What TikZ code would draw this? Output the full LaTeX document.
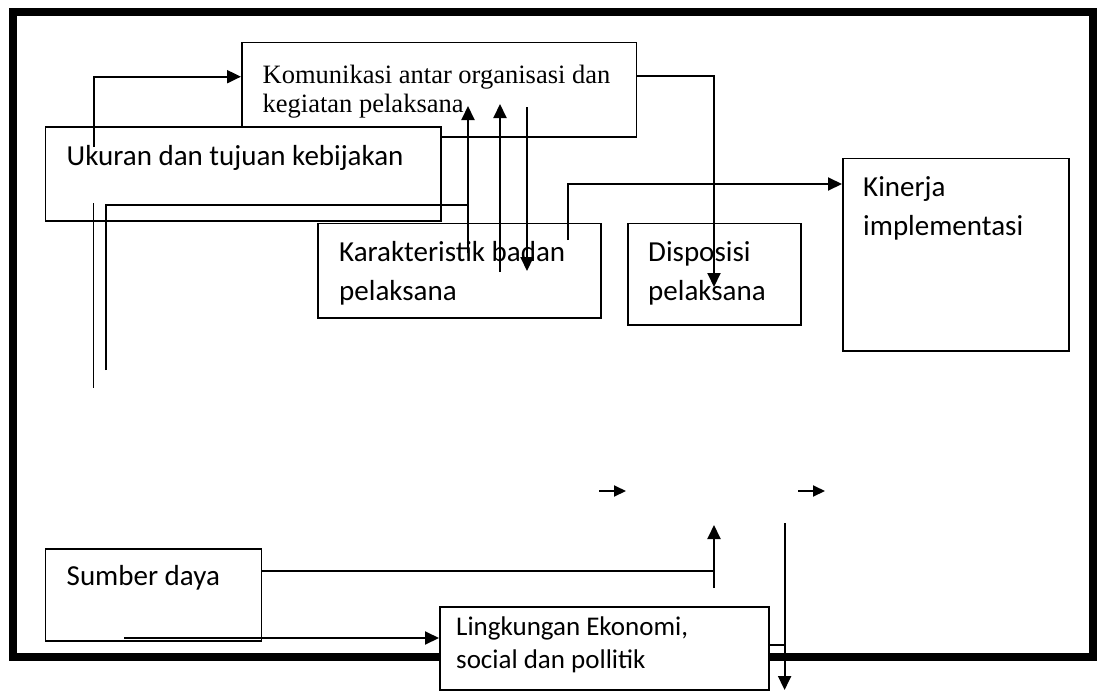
\documentclass[tikz,border=0pt]{standalone}
\usepackage{fontspec}
\setmainfont{Carlito}
\newfontfamily\timesfont{Liberation Serif}
\usetikzlibrary{arrows.meta}
\begin{document}
\begin{tikzpicture}[x=1pt,y=-1pt]
	\tikzstyle{box} = [draw, fill=white, line width=1.6pt, inner sep=0pt, anchor=north west];
	\tikzstyle{txt} = [inner sep=0pt, anchor=base west, align=flush left, text width=370pt, font=\fontsize{29}{39}\selectfont];
	\tikzstyle{ln} = [line width=1.4pt];
	\tikzstyle{arr} = [line width=2pt, -{Triangle[length=14pt,width=13pt]}];
	\useasboundingbox (0,0) rectangle (1101,691);
	\draw[line width=8pt] (13,11.5) rectangle (1092.5,657);
	% boxes
	\node[box, minimum width=394.7pt, minimum height=94.3pt] (kom) at (241,41.7) {};
	\node[txt, font=\timesfont\fontsize{26.5}{29}\selectfont] (komtxt) at (262.5,83) {Komunikasi antar organisasi dan\\kegiatan pelaksana};
	\node[box, minimum width=395.4pt, minimum height=94pt] (uk) at (44.6,126) {};
	\node[txt] (uktxt) at (66.5,165.7) {Ukuran dan tujuan kebijakan};
	\coordinate (p1) at (93.6,147);
	\coordinate (p2) at (93.6,76.7);
	\draw[arr] (p1) -- (p2) -- (kom.west |- p2);
	\node[box, minimum width=283pt, minimum height=94.3pt] (kar) at (317,222.7) {};
	\node[txt] (kartxt) at (339,261) {Karakteristik badan\\pelaksana};
	\node[box, minimum width=173pt, minimum height=101.3pt] (dis) at (627,222.7) {};
	\node[txt] (distxt) at (648,261) {Disposisi\\pelaksana};
	\node[box, minimum width=226pt, minimum height=192.3pt] (kin) at (842,157.7) {};
	\node[txt] (kintxt) at (863,196.7) {Kinerja\\implementasi};
	\node[box, minimum width=216pt, minimum height=92pt] (sum) at (44.6,548) {};
	\node[txt] (sumtxt) at (66.5,585) {Sumber daya};
	\node[box, minimum width=329pt, minimum height=83pt] (lin) at (439,606) {};
	\node[txt, font=\fontsize{27}{33}\selectfont] (lintxt) at (456,635) {Lingkungan Ekonomi,\\social dan pollitik};
	% lines
	\coordinate (q1) at (93.6,203);
	\coordinate (q2) at (93.6,388);
	\draw[ln] (q1) -- (q2);
	\coordinate (r1) at (106,370);
	\coordinate (r2) at (106,205);
	\coordinate (s1) at (468,253);
	\coordinate (s2) at (468,106);
	\draw[ln] (r1) -- (r2) -- (r2 -| s1);
	\draw[arr] (s1) -- (s2);
	\coordinate (t1) at (500,272);
	\coordinate (t2) at (500,104);
	\draw[arr] (t1) -- (t2);
	\coordinate (u1) at (527,107);
	\coordinate (u2) at (527,271);
	\draw[arr] (u1) -- (u2);
	\coordinate (v1) at (568,240);
	\coordinate (v2) at (568,184);
	\draw[arr] (v1) -- (v2) -- (kin.west |- v2);
	\coordinate (w1) at (714,76);
	\coordinate (w2) at (714,287);
	\draw[arr] (kom.east |- w1) -- (w1) -- (w2);
	\foreach \x in {599,798} {
		\draw[line width=2pt, -{Triangle[length=12pt,width=11pt]}] (\x,491) -- ++(27,0);
		}
	\coordinate (y0) at (714,571);
	\coordinate (y1) at (714,588);
	\coordinate (y2) at (714,525);
	\draw[ln] (sum.east |- y0) -- (y0);
	\draw[arr] (y1) -- (y2);
	\coordinate (z0) at (784.6,645);
	\coordinate (z1) at (784.6,523);
	\coordinate (z2) at (784.6,690);
	\draw[ln] (lin.east |- z0) -- (z0);
	\draw[arr] (z1) -- (z2);
	\coordinate (m1) at (124,638);
	\draw[arr] (m1) -- (lin.west |- m1);
\end{tikzpicture}
\end{document}
